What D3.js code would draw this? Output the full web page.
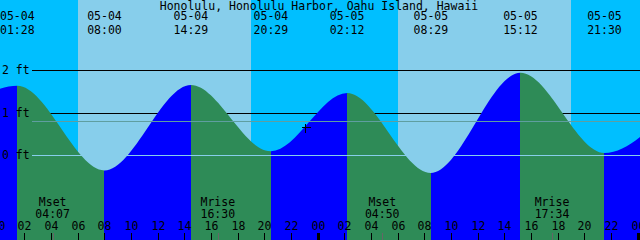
<!DOCTYPE html>
<html>
<head>
<meta charset="utf-8">
<script src="https://cdn.jsdelivr.net/npm/d3@7"></script>
<style>
	body { margin: 0; padding: 0; background: #fff; }
	svg { display: block; }
	text { font-family: "DejaVu Sans Mono", "Liberation Mono", monospace; font-size: 11.5px; fill: black; }
</style>
</head>
<body>
<svg id="svg1"></svg>
<script>
var svg1 = d3.select("#svg1").attr("width", 640).attr("height", 240),
	width = +svg1.attr("width"),
	height = +svg1.attr("height");

var title = "Honolulu, Honolulu Harbor, Oahu Island, Hawaii";

// high / low tides (first and last are just outside the window)
var tideTimes = ["05-03 18:00", "05-04 01:28", "05-04 08:00", "05-04 14:29", "05-04 20:29",
	"05-05 02:12", "05-05 08:29", "05-05 15:12", "05-05 21:30", "05-06 03:10"];
var tideHeights = [0.0, 1.64, -0.35, 1.66, 0.10, 1.47, -0.41, 1.95, 0.06, 1.40];

var sunTimes = ["05-04 06:01", "05-04 18:59", "05-05 06:01", "05-05 18:58"];
var sunEvents = ["rise", "set", "rise", "set"];

var moonTimes = ["05-04 04:07", "05-04 16:30", "05-05 04:50", "05-05 17:34"];
var moonEvents = ["Mset", "Mrise", "Mset", "Mrise"];

var heightTicks = [0, 1, 2];
var msl = 0.82;

var nowTime = "05-04 23:04";
var nowHeight = 0.67;

var startTime = "05-04 00:10",
	endTime = "05-06 00:10";

var nightColor = "#00BFFF",
	dayColor = "#87CEEB",
	risingColor = "#0000FF",
	fallingColor = "#2E8B57",
	mslColor = "#5F9EA0";

var parse = d3.utcParse("%Y-%m-%d %H:%M");
function t(s) { return parse("2021-" + s); }

var tides = tideTimes.map(function(d, i) {
	return {time: t(d), height: tideHeights[i]};
});

var xScale = d3.scaleUtc()
	.domain([t(startTime), t(endTime)])
	.range([0, width]);

var yScale = d3.scaleLinear()
	.domain([0, 2])
	.range([155.5, 70.5]);

// sky: night / day bands
var sun = sunTimes.map(function(d, i) { return {time: t(d), ev: sunEvents[i]}; });
var bands = [];
var last = xScale.domain()[0];
sun.forEach(function(s) {
	bands.push({from: last, to: s.time, day: s.ev == "set"});
	last = s.time;
});
bands.push({from: last, to: xScale.domain()[1], day: false});

svg1.append("g")
	.attr("id", "sky")
	.selectAll("rect")
	.data(bands)
	.enter()
		.append("rect")
			.attr("x", function(d) { return Math.round(xScale(d.from)); })
			.attr("y", 0)
			.attr("width", function(d) { return Math.round(xScale(d.to)) - Math.round(xScale(d.from)); })
			.attr("height", height)
			.attr("fill", function(d) { return d.day ? dayColor : nightColor; })
			.attr("shape-rendering", "crispEdges");

// black height lines (behind the water)
svg1.append("g")
	.selectAll("line")
	.data(heightTicks.filter(function(d) { return d > 0; }))
	.enter()
		.append("line")
			.attr("x1", 32)
			.attr("x2", width)
			.attr("y1", function(d) { return yScale(d); })
			.attr("y2", function(d) { return yScale(d); })
			.attr("stroke", "black")
			.attr("shape-rendering", "crispEdges");

// water
var area = d3.area()
	.x(function(d) { return xScale(d.time); })
	.y0(height)
	.y1(function(d) { return yScale(d.height); })
	.curve(d3.curveMonotoneX);

svg1.append("clipPath")
	.attr("id", "water")
	.append("path")
		.attr("d", area(tides));

var water = svg1.append("g")
	.attr("clip-path", "url(#water)");

water.selectAll("rect")
	.data(tides.slice(0, -1))
	.enter()
		.append("rect")
			.attr("x", function(d) { return Math.round(xScale(d.time)); })
			.attr("y", 0)
			.attr("width", function(d, i) {
				return Math.round(xScale(tides[i + 1].time)) - Math.round(xScale(d.time));
			})
			.attr("height", height)
			.attr("fill", function(d, i) {
				return tides[i + 1].height > d.height ? risingColor : fallingColor;
			})
			.attr("shape-rendering", "crispEdges");

// datum and mean sea level over the water
svg1.append("line")
	.attr("x1", 32)
	.attr("x2", width)
	.attr("y1", yScale(0))
	.attr("y2", yScale(0))
	.attr("stroke", dayColor)
	.attr("shape-rendering", "crispEdges");

svg1.append("line")
	.attr("x1", 32)
	.attr("x2", width)
	.attr("y1", Math.round(yScale(msl)) + 0.5)
	.attr("y2", Math.round(yScale(msl)) + 0.5)
	.attr("stroke", mslColor)
	.attr("shape-rendering", "crispEdges");

// height labels
svg1.append("g")
	.selectAll("text")
	.data(heightTicks)
	.enter()
		.append("text")
			.attr("x", 2)
			.attr("y", function(d) { return yScale(d) + 3.5; })
			.text(function(d) { return d + " ft"; });

// title and tide event labels
svg1.append("text")
	.attr("x", 319)
	.attr("y", 10)
	.attr("text-anchor", "middle")
	.text(title);

var shown = tides.filter(function(d) {
	return d.time >= xScale.domain()[0] && d.time <= xScale.domain()[1];
});

var tideLabels = svg1.append("g")
	.selectAll("g")
	.data(shown)
	.enter()
		.append("g")
			.attr("transform", function(d) { return "translate(" + xScale(d.time) + ",0)"; });

tideLabels.append("text")
	.attr("y", 20)
	.attr("text-anchor", "middle")
	.text(function(d) { return d3.utcFormat("%m-%d")(d.time); });

tideLabels.append("text")
	.attr("y", 34)
	.attr("text-anchor", "middle")
	.text(function(d) { return d3.utcFormat("%H:%M")(d.time); });

// now marker
var nx = Math.round(xScale(t(nowTime))) + 0.5,
	ny = Math.round(yScale(nowHeight)) + 0.5;
svg1.append("path")
	.attr("d", "M" + (nx - 4) + "," + ny + "H" + (nx + 5) + "M" + nx + "," + (ny - 4) + "V" + (ny + 5))
	.attr("stroke", "black")
	.attr("shape-rendering", "crispEdges");

// moon events
var moon = svg1.append("g")
	.selectAll("g")
	.data(moonTimes)
	.enter()
		.append("g")
			.attr("transform", function(d) { return "translate(" + xScale(t(d)) + ",0)"; });

moon.append("text")
	.attr("y", 206)
	.attr("text-anchor", "middle")
	.text(function(d, i) { return moonEvents[i]; });

moon.append("text")
	.attr("y", 218)
	.attr("text-anchor", "middle")
	.text(function(d) { return d.slice(6); });

moon.append("line")
	.attr("x1", function(d) { return Math.round(xScale(t(d))) - xScale(t(d)) + 0.5; })
	.attr("x2", function(d) { return Math.round(xScale(t(d))) - xScale(t(d)) + 0.5; })
	.attr("y1", 233)
	.attr("y2", height)
	.attr("stroke", "#666")
	.attr("shape-rendering", "crispEdges");

// hour axis
var hours = d3.utcHour.every(2).range(t("05-04 00:00"), t("05-06 00:01"));

var hourTicks = svg1.append("g")
	.selectAll("g")
	.data(hours)
	.enter()
		.append("g")
			.attr("transform", function(d) { return "translate(" + (Math.round(xScale(d)) + 0.5) + ",0)"; });

hourTicks.append("text")
	.attr("y", 230)
	.attr("text-anchor", "middle")
	.text(function(d) { return d3.utcFormat("%H")(d); });

hourTicks.append("line")
	.attr("y1", 233)
	.attr("y2", height)
	.attr("stroke", "black")
	.attr("stroke-width", function(d) { return d.getUTCHours() == 0 ? 3 : 1; })
	.attr("shape-rendering", "crispEdges");
</script>
</body>
</html>
